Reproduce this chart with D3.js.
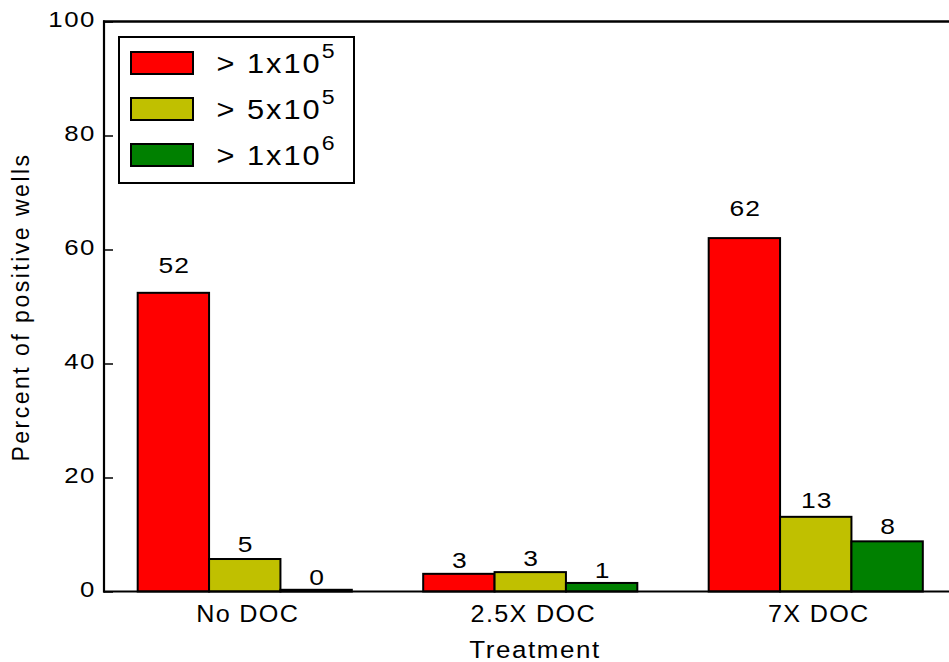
<!DOCTYPE html>
<html>
<head>
<meta charset="utf-8">
<script src="https://cdn.jsdelivr.net/npm/d3@7/dist/d3.min.js"></script>
<style>
  html, body { margin: 0; padding: 0; background: #fff; }
  svg { display: block; font-family: "Liberation Sans", Arial, sans-serif; }
</style>
</head>
<body>
<svg id="chart" width="949" height="662"></svg>
<script>
// Treatment groups and thresholds
const categories = ["No DOC", "2.5X DOC", "7X DOC"];
const seriesNames = ["> 1x10", "> 5x10", "> 1x10"];
const seriesExponents = ["5", "5", "6"];
const seriesColors = ["#ff0000", "#c0c000", "#008000"];

// Percent of positive wells, one array per threshold (ordered as categories)
const over1e5 = [52.4, 3.1, 62.0];
const over5e5 = [5.7, 3.4, 13.1];
const over1e6 = [0.3, 1.5, 8.8];

const yTicks = [0, 20, 40, 60, 80, 100];

const series = [over1e5, over5e5, over1e6];

const svg = d3.select("#chart");
const W = 949;
const plotTop = 21.5, plotBottom = 591.5, axisX = 104;

// Text in this figure is set in a wide face: widen glyphs horizontally
const place = (x, y, sx) => `translate(${x},${y}) scale(${sx},1)`;

const y = d3.scaleLinear().domain([0, 100]).range([plotBottom, plotTop]);
const x0 = d3.scaleBand().domain(categories).range([102, 958.5])
  .paddingInner(0.25).paddingOuter(0.125);
const x1 = d3.scaleBand().domain(d3.range(series.length)).range([0, x0.bandwidth()]);

// Bars
const groups = svg.append("g").selectAll("g")
  .data(categories)
  .join("g")
  .attr("transform", d => `translate(${x0(d)},0)`);

groups.selectAll("rect")
  .data((c, ci) => series.map((s, si) => ({ si, v: s[ci] })))
  .join("rect")
  .attr("x", d => x1(d.si))
  .attr("width", x1.bandwidth())
  .attr("y", d => y(d.v))
  .attr("height", d => y(0) - y(d.v))
  .attr("fill", d => seriesColors[d.si])
  .attr("stroke", "#000")
  .attr("stroke-width", 2);

// Value labels (whole percent)
groups.selectAll("text")
  .data((c, ci) => series.map((s, si) => ({ si, v: s[ci] })))
  .join("text")
  .attr("transform", d => place(x1(d.si) + x1.bandwidth() / 2 + 1, y(d.v) - 5 - 0.28 * d.v, 1.2))
  .attr("text-anchor", "middle")
  .attr("font-size", 22)
  .attr("letter-spacing", 1)
  .attr("fill", "#000")
  .text(d => Math.floor(d.v));

// Frame lines: left axis, top and bottom
svg.append("line").attr("x1", axisX).attr("x2", axisX).attr("y1", plotTop - 1).attr("y2", plotBottom + 1)
  .attr("stroke", "#000").attr("stroke-width", 2.2);
svg.append("line").attr("x1", axisX - 1).attr("x2", W + 20).attr("y1", plotTop).attr("y2", plotTop)
  .attr("stroke", "#000").attr("stroke-width", 2.5);
svg.append("line").attr("x1", axisX - 1).attr("x2", W + 20).attr("y1", plotBottom).attr("y2", plotBottom)
  .attr("stroke", "#000").attr("stroke-width", 2.2);

// Y axis with inward ticks
const yAxis = d3.axisRight(y).tickValues(yTicks).tickSize(9).tickFormat("");
const yg = svg.append("g").attr("transform", `translate(${axisX},0)`).call(yAxis);
yg.select(".domain").remove();
yg.selectAll(".tick line").attr("stroke", "#000").attr("stroke-width", 1.5);

svg.append("g").selectAll("text")
  .data(yTicks)
  .join("text")
  .attr("transform", d => place(axisX - 8, y(d) + 5.5, 1.2))
  .attr("text-anchor", "end")
  .attr("font-size", 21.5)
  .attr("letter-spacing", 1.3)
  .attr("fill", "#000")
  .text(d => d);

// Category labels
svg.append("g").selectAll("text")
  .data(categories)
  .join("text")
  .attr("transform", d => place(x0(d) + x0.bandwidth() / 2 + 3, plotBottom + 30.5, 1.05))
  .attr("text-anchor", "middle")
  .attr("font-size", 24)
  .attr("letter-spacing", 1.25)
  .attr("fill", "#000")
  .text(d => d);

// Axis titles
svg.append("text")
  .attr("transform", place(535, 658, 1.06))
  .attr("text-anchor", "middle")
  .attr("font-size", 24.5)
  .attr("letter-spacing", 1.5)
  .text("Treatment");

svg.append("text")
  .attr("transform", `translate(29,307) rotate(-90)`)
  .attr("text-anchor", "middle")
  .attr("font-size", 23)
  .attr("letter-spacing", 2.5)
  .text("Percent of positive wells");

// Legend
const legend = svg.append("g");
legend.append("rect")
  .attr("x", 119).attr("y", 37).attr("width", 235).attr("height", 146)
  .attr("fill", "#fff").attr("stroke", "#000").attr("stroke-width", 2);

const rows = legend.selectAll("g.row")
  .data(seriesNames.map((n, i) => ({ n, e: seriesExponents[i], c: seriesColors[i], i })))
  .join("g")
  .attr("class", "row")
  .attr("transform", d => `translate(0,${d.i * 46})`);

rows.append("rect")
  .attr("x", 131).attr("y", 52).attr("width", 62).attr("height", 22)
  .attr("fill", d => d.c).attr("stroke", "#000").attr("stroke-width", 2);

const lt = rows.append("text")
  .attr("transform", place(216.5, 72.7, 1.1))
  .attr("font-size", 28)
  .attr("letter-spacing", 1.8)
  .attr("fill", "#000");
lt.append("tspan").text(d => d.n);
lt.append("tspan")
  .attr("dy", -14.4)
  .attr("font-size", 21)
  .attr("letter-spacing", 0)
  .text(d => d.e);
</script>
</body>
</html>
